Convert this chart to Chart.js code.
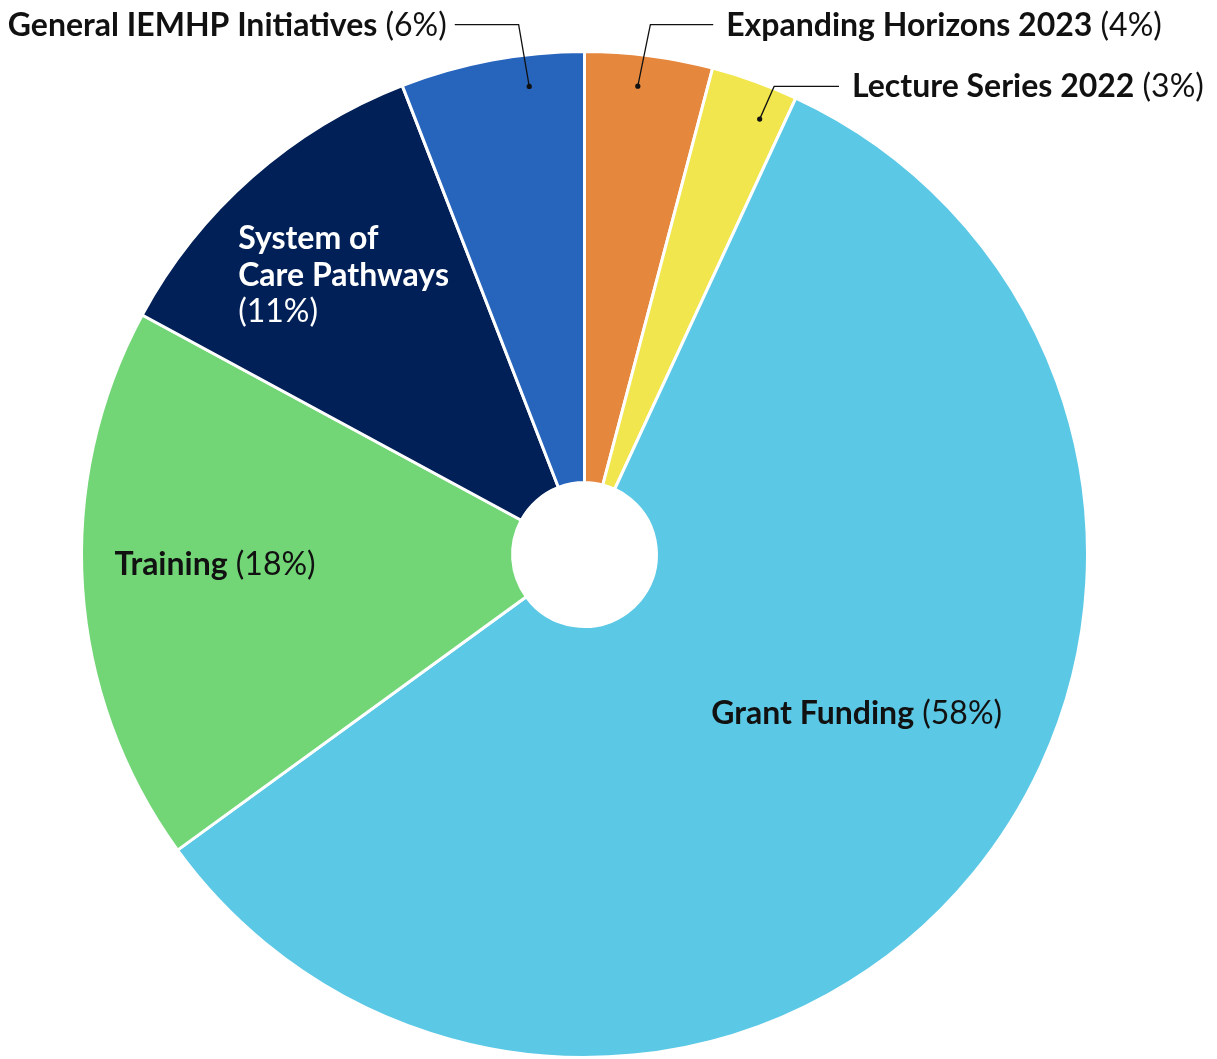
<!DOCTYPE html>
<html><head><meta charset="utf-8">
<script src="https://cdn.jsdelivr.net/npm/chart.js@4/dist/chart.umd.min.js"></script>
<style>html,body{margin:0;padding:0;background:#fff;overflow:hidden}#wrap{width:1217px;height:1059px;position:relative}</style>
</head><body><div id="wrap"><canvas id="c" width="1217" height="1059"></canvas></div>
<script>
// ---- data ----
const categories = ['Expanding Horizons 2023', 'Lecture Series 2022', 'Grant Funding', 'Training', 'System of Care Pathways', 'General IEMHP Initiatives'];
const shares = [4.1, 2.8, 58.1, 17.9, 11.2, 5.9];
const percentLabels = ['(4%)', '(3%)', '(58%)', '(18%)', '(11%)', '(6%)'];
const sliceColors = ['#E6873E', '#F1E64E', '#5BC8E5', '#72D677', '#002057', '#2764BC'];

// ---- label layout (offsets from chart centre, in units of a 504px radius) ----
const labelLayout = [
  {align: 'left', x: 142, y: -520, color: '#111', inline: true,
   leader: {frac: 0.44, rad: 0.937, elbow: [66, -531], end: [129, -531]}},
  {align: 'left', x: 268, y: -458, color: '#111', inline: true,
   leader: {frac: 0.71, rad: 0.933, elbow: [190, -469], end: [255, -469]}},
  {align: 'left', x: 127, y: 170, color: '#111', inline: true},
  {align: 'left', x: -471, y: 21, color: '#111', inline: true},
  {align: 'left', x: -347, y: -306, color: '#fff', inline: false, split: ['System of', 'Care Pathways']},
  {align: 'right', x: -138, y: -520, color: '#111', inline: true,
   leader: {frac: 0.683, rad: 0.937, elbow: [-66, -531], end: [-130, -531]}}
];

const FONT = 'Lato, "Noto Sans", sans-serif';
const SIZE = 32;
const LINE_H = 36.5;

const labelPlugin = {
  id: 'sliceLabels',
  afterDatasetsDraw(chart) {
    const ctx = chart.ctx;
    const meta = chart.getDatasetMeta(0);
    meta.data.forEach((arc, i) => {
      const L = labelLayout[i];
      const R = arc.outerRadius;
      const s = R / 504;
      const cx = arc.x, cy = arc.y;
      const tx = cx + L.x * s, ty = cy + L.y * s;
      ctx.save();
      ctx.textBaseline = 'alphabetic';
      ctx.fillStyle = L.color;
      const bold = '700 ' + SIZE + 'px ' + FONT;
      const reg = '400 ' + SIZE + 'px ' + FONT;
      if (L.inline) {
        const name = categories[i];
        const pct = ' ' + percentLabels[i];
        ctx.font = bold; const wb = ctx.measureText(name).width;
        ctx.font = reg; const wp = ctx.measureText(pct).width;
        const x0 = L.align === 'right' ? tx - wb - wp : tx;
        ctx.textAlign = 'left';
        ctx.font = bold; ctx.fillText(name, x0, ty);
        ctx.font = reg; ctx.fillText(pct, x0 + wb, ty);
      } else {
        ctx.textAlign = 'left';
        ctx.font = bold;
        L.split.forEach((t, k) => ctx.fillText(t, tx, ty + k * LINE_H));
        ctx.font = reg;
        ctx.fillText(percentLabels[i], tx, ty + L.split.length * LINE_H);
      }
      if (L.leader) {
        const ld = L.leader;
        const a = arc.startAngle + ld.frac * (arc.endAngle - arc.startAngle);
        const dx = cx + Math.cos(a) * R * ld.rad;
        const dy = cy + Math.sin(a) * R * ld.rad;
        ctx.strokeStyle = '#111';
        ctx.lineWidth = 1.3;
        ctx.beginPath();
        ctx.moveTo(cx + ld.end[0] * s, cy + ld.end[1] * s);
        ctx.lineTo(cx + ld.elbow[0] * s, cy + ld.elbow[1] * s);
        ctx.lineTo(dx, dy);
        ctx.stroke();
        ctx.fillStyle = '#111';
        ctx.beginPath();
        ctx.arc(dx, dy, 2.6, 0, Math.PI * 2);
        ctx.fill();
      }
      ctx.restore();
    });
  }
};

function draw() {
  new Chart(document.getElementById('c'), {
    type: 'doughnut',
    data: {
      labels: categories,
      datasets: [{
        data: shares,
        backgroundColor: sliceColors,
        borderColor: '#ffffff',
        borderWidth: 3,
        hoverOffset: 0,
        offset: 0
      }]
    },
    options: {
      responsive: false,
      devicePixelRatio: 1,
      animation: false,
      cutout: '14.3%',
      layout: {padding: {top: 50, bottom: 0, left: 80, right: 128}},
      plugins: {legend: {display: false}, tooltip: {enabled: false}}
    },
    plugins: [labelPlugin]
  });
}
Promise.all([
  document.fonts.load('700 32px Lato'),
  document.fonts.load('400 32px Lato')
]).then(draw, draw);
</script>
</body></html>
